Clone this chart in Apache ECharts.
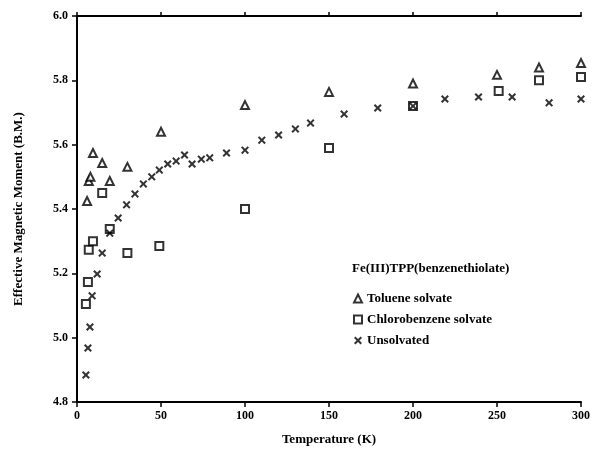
<!DOCTYPE html>
<html>
<head>
<meta charset="utf-8">
<script src="https://cdn.jsdelivr.net/npm/echarts@6/dist/echarts.min.js"></script>
<style>
  html, body { margin: 0; padding: 0; background: #fff; }
  #chart { width: 593px; height: 452px; }
</style>
</head>
<body>
<div id="chart"></div>
<script>
// 数据 (温度 K, 有效磁矩 B.M.)
const toluene = [
  [6, 5.425], [7, 5.487], [8, 5.50], [9.5, 5.574], [15, 5.543], [19.5, 5.487],
  [30, 5.531], [50, 5.64], [100, 5.723], [150, 5.764], [200, 5.79],
  [250, 5.817], [275, 5.84], [300, 5.854]
]
const chlorobenzene = [
  [5.3, 5.105], [6.5, 5.173], [7, 5.273], [9.5, 5.30], [15, 5.45], [19.5, 5.338],
  [30, 5.263], [49, 5.285], [100, 5.40], [150, 5.59], [200, 5.72],
  [251, 5.767], [275, 5.80], [300, 5.81]
]
const unsolvated = [
  [5.3, 4.884], [6.5, 4.968], [7.7, 5.033], [9, 5.13], [12, 5.198], [15, 5.263],
  [19.5, 5.325], [24.5, 5.372], [29.5, 5.413], [34.5, 5.447], [39.5, 5.478],
  [44.5, 5.50], [49, 5.521], [54, 5.54], [59, 5.549], [64, 5.568], [68.5, 5.54],
  [74, 5.555], [79, 5.559], [89, 5.574], [100, 5.583], [110, 5.614], [120, 5.63],
  [130, 5.649], [139, 5.667], [159, 5.695], [179, 5.714], [200, 5.72],
  [219, 5.742], [239, 5.748], [259, 5.748], [281, 5.73], [300, 5.742]
]
const xTicks = [0, 50, 100, 150, 200, 250, 300]
const yTicks = [4.8, 5.0, 5.2, 5.4, 5.6, 5.8, 6.0]

const chart = echarts.init(document.getElementById('chart'))
const font = 'Liberation Serif'
const crossPath = 'path://M0,1.8L1.8,0L5,3.2L8.2,0L10,1.8L6.8,5L10,8.2L8.2,10L5,6.8L1.8,10L0,8.2L3.2,5Z'

const axisLine = { show: true, lineStyle: { color: '#000', width: 2 } }

const option = {
  animation: false,
  grid: { left: 77, right: 8, top: 16, bottom: 50 },
  graphic: [
    {
      type: 'text',
      left: 352,
      top: 262,
      style: {
        text: 'Fe(III)TPP(benzenethiolate)',
        font: 'bold 13px "Liberation Serif"',
        fill: '#000'
      }
    }
  ],
  legend: {
    orient: 'vertical',
    left: 348,
    top: 287,
    itemWidth: 8,
    itemHeight: 8,
    itemGap: 8,
    textStyle: { fontFamily: font, fontWeight: 'bold', fontSize: 13, color: '#000' },
    data: ['Toluene solvate', 'Chlorobenzene solvate', 'Unsolvated']
  },
  xAxis: [
    {
      type: 'value',
      min: 0,
      max: 300,
      interval: 50,
      name: 'Temperature (K)',
      nameLocation: 'middle',
      nameGap: 31,
      nameTextStyle: { fontFamily: font, fontWeight: 'bold', fontSize: 13, color: '#000' },
      axisLine: axisLine,
      axisTick: { show: true, length: 5, lineStyle: { color: '#000', width: 1.5 } },
      axisLabel: {
        fontFamily: font, fontWeight: 'bold', fontSize: 12, color: '#000', margin: 8,
        formatter: v => (xTicks.indexOf(v) >= 0 ? String(v) : '')
      },
      splitLine: { show: false }
    },
    {
      type: 'value',
      position: 'top',
      min: 0,
      max: 300,
      interval: 50,
      axisLine: axisLine,
      axisTick: { show: true, length: 4, lineStyle: { color: '#000', width: 1.5 } },
      axisLabel: { show: false },
      splitLine: { show: false }
    }
  ],
  yAxis: [
    {
      type: 'value',
      min: 4.8,
      max: 6.0,
      interval: 0.2,
      name: 'Effective Magnetic Moment (B.M.)',
      nameLocation: 'middle',
      nameGap: 52,
      nameTextStyle: { fontFamily: font, fontWeight: 'bold', fontSize: 13, color: '#000' },
      axisLine: axisLine,
      axisTick: { show: true, length: 5, lineStyle: { color: '#000', width: 1.5 } },
      axisLabel: {
        fontFamily: font, fontWeight: 'bold', fontSize: 12, color: '#000', margin: 9,
        formatter: v => {
          const t = yTicks.find(y => Math.abs(y - v) < 1e-6)
          return t === undefined ? '' : t.toFixed(1)
        }
      },
      splitLine: { show: false }
    },
    {
      type: 'value',
      position: 'right',
      min: 4.8,
      max: 6.0,
      interval: 0.2,
      axisLine: axisLine,
      axisTick: { show: true, inside: true, length: 4, lineStyle: { color: '#000', width: 1.5 } },
      axisLabel: { show: false },
      splitLine: { show: false }
    }
  ],
  series: [
    {
      name: 'Toluene solvate',
      type: 'scatter',
      symbol: 'triangle',
      symbolSize: 8,
      itemStyle: { color: '#fff', borderColor: '#000', borderWidth: 2 },
      data: toluene,
      z: 3
    },
    {
      name: 'Chlorobenzene solvate',
      type: 'scatter',
      symbol: 'rect',
      symbolSize: 8,
      itemStyle: { color: '#fff', borderColor: '#000', borderWidth: 2 },
      data: chlorobenzene,
      z: 2
    },
    {
      name: 'Unsolvated',
      type: 'scatter',
      symbol: crossPath,
      symbolSize: 8,
      itemStyle: { color: '#000' },
      data: unsolvated,
      z: 4
    }
  ]
}

chart.setOption(option)
</script>
</body>
</html>
